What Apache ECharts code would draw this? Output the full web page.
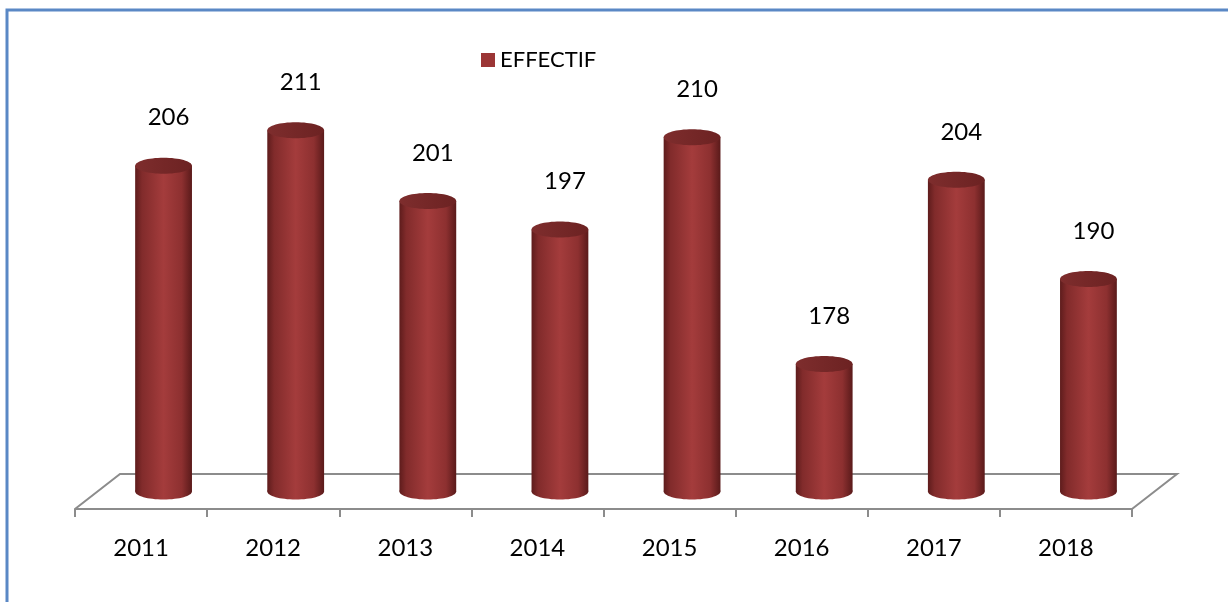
<!DOCTYPE html>
<html>
<head>
<meta charset="utf-8">
<script src="https://cdn.jsdelivr.net/npm/echarts@6/dist/echarts.min.js"></script>
<style>
  html, body { margin: 0; padding: 0; background: #fff; }
  #chart { width: 1228px; height: 602px; }
</style>
</head>
<body>
<div id="chart"></div>
<script>
const years = ['2011', '2012', '2013', '2014', '2015', '2016', '2017', '2018']
const effectif = [206, 211, 201, 197, 210, 178, 204, 190]
const seriesName = 'EFFECTIF'

// grid / floor layout (the floor is drawn as a parallelogram like the 3D excel chart)
const GRID = {left: 75, right: 96, top: 84, bottom: 93}
const DEPTH_X = 45, DEPTH_Y = -35
const W = 1228, H = 602
const floorY = H - GRID.bottom
const floorL = GRID.left, floorR = W - GRID.right

const chart = echarts.init(document.getElementById('chart'))

const bodyGradient = () => new echarts.graphic.LinearGradient(0, 0, 1, 0, [
  {offset: 0, color: '#5e1c1c'},
  {offset: 0.12, color: '#812b2b'},
  {offset: 0.5, color: '#a43c3c'},
  {offset: 0.82, color: '#8d3030'},
  {offset: 1, color: '#5a1a1a'}
])

function renderCylinder(params, api) {
  const idx = api.value(0)
  const top = api.coord([idx, api.value(1)])
  const base = api.coord([idx, 160])
  const rx = api.size([1, 0])[0] * 0.43 / 2
  const ry = 8
  const cx = top[0] + DEPTH_X / 2
  const ty = top[1] + DEPTH_Y / 2
  const by = base[1] + DEPTH_Y / 2
  return {
    type: 'group',
    children: [
      {
        type: 'ellipse',
        shape: {cx: cx, cy: by, rx: rx, ry: ry},
        style: {fill: bodyGradient()}
      },
      {
        type: 'rect',
        shape: {x: cx - rx, y: ty, width: rx * 2, height: by - ty},
        style: {fill: bodyGradient()}
      },
      {
        type: 'ellipse',
        shape: {cx: cx, cy: ty, rx: rx, ry: ry},
        style: {
          fill: new echarts.graphic.LinearGradient(0, 0, 1, 0, [
            {offset: 0, color: '#7e2d2d'},
            {offset: 1, color: '#6c2222'}
          ])
        }
      },
      {
        type: 'text',
        style: {
          text: String(api.value(1)),
          x: cx + 5,
          y: ty - 48,
          align: 'center',
          verticalAlign: 'middle',
          fill: '#000',
          font: '24px Lato'
        }
      }
    ]
  }
}

const option = {
  animation: false,
  legend: {
    data: [seriesName],
    left: 476,
    top: 44,
    icon: 'rect',
    itemWidth: 14,
    itemHeight: 14,
    itemGap: 7,
    textStyle: {fontFamily: 'Lato', fontSize: 22, color: '#000'}
  },
  grid: GRID,
  xAxis: {
    type: 'category',
    data: years,
    axisLine: {show: true, lineStyle: {color: '#8c8c8c', width: 2}},
    axisTick: {show: true, length: 8, lineStyle: {color: '#8c8c8c', width: 2}},
    axisLabel: {fontFamily: 'Lato', fontSize: 24, color: '#000', margin: 27}
  },
  yAxis: {
    type: 'value',
    min: 160,
    max: 220,
    show: false,
    splitLine: {show: false}
  },
  graphic: [
    {
      // chart border
      type: 'rect',
      shape: {x: 7, y: 10, width: 1400, height: 800},
      style: {fill: 'none', stroke: '#5a88c5', lineWidth: 3},
      silent: true
    },
    {
      // floor back / side edges
      type: 'polyline',
      shape: {
        points: [
          [floorL, floorY],
          [floorL + DEPTH_X, floorY + DEPTH_Y],
          [floorR + DEPTH_X, floorY + DEPTH_Y],
          [floorR, floorY]
        ]
      },
      style: {stroke: '#8c8c8c', lineWidth: 2, fill: 'none'},
      z: 0,
      silent: true
    }
  ],
  series: [
    {
      name: seriesName,
      type: 'custom',
      renderItem: renderCylinder,
      itemStyle: {color: '#9b3535'},
      encode: {x: 0, y: 1},
      data: effectif.map((v, i) => [i, v]),
      z: 5
    }
  ]
}

chart.setOption(option)
</script>
</body>
</html>
